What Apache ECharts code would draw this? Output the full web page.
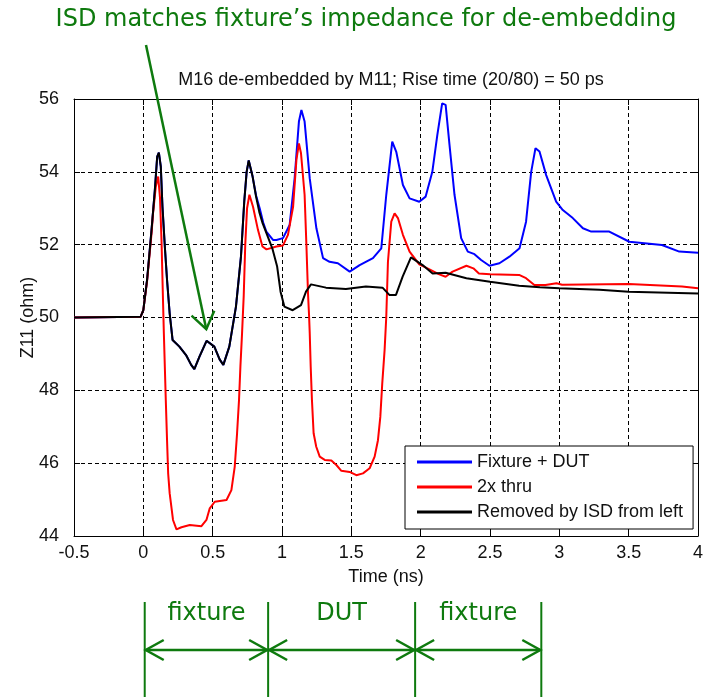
<!DOCTYPE html>
<html>
<head>
<meta charset="utf-8">
<script src="https://cdn.jsdelivr.net/npm/echarts@6/dist/echarts.min.js"></script>
<style>
  html, body { margin: 0; padding: 0; background: #fff; }
  #chart { width: 704px; height: 697px; }
</style>
</head>
<body>
<div id="chart"></div>
<script>
// Time axis ticks (ns) and impedance ticks (ohm)
const timeTicks = [-0.5, 0, 0.5, 1, 1.5, 2, 2.5, 3, 3.5, 4];
const zTicks = [44, 46, 48, 50, 52, 54, 56];

const seriesNames = ['Fixture + DUT', '2x thru', 'Removed by ISD from left'];

// Fixture + DUT TDR impedance [time ns, Z ohm]
const fixtureDut = [
  [-0.5, 50.0], [-0.02, 50.02], [0.0, 50.2], [0.027, 51.03], [0.059, 52.4], [0.083, 53.5],
  [0.1, 54.42], [0.112, 54.53], [0.126, 54.14], [0.138, 53.04], [0.155, 51.95], [0.171, 51.03],
  [0.19, 50.11], [0.211, 49.38], [0.26, 49.2], [0.308, 48.97], [0.345, 48.7], [0.368, 48.58],
  [0.404, 48.92], [0.456, 49.36], [0.512, 49.2], [0.55, 48.85], [0.577, 48.7], [0.62, 49.2],
  [0.668, 50.3], [0.704, 51.67], [0.728, 53.2], [0.745, 54.0], [0.76, 54.31], [0.788, 53.87],
  [0.813, 53.35], [0.839, 53.0], [0.865, 52.6], [0.887, 52.36], [0.935, 52.13], [0.96, 52.13],
  [1.007, 52.18], [1.055, 52.54], [1.091, 53.82], [1.122, 55.38], [1.14, 55.7], [1.163, 55.38],
  [1.2, 53.82], [1.248, 52.45], [1.296, 51.63], [1.343, 51.53], [1.403, 51.49], [1.488, 51.26],
  [1.56, 51.44], [1.656, 51.63], [1.716, 51.9], [1.752, 53.37], [1.795, 54.83], [1.824, 54.55],
  [1.872, 53.64], [1.92, 53.27], [1.99, 53.18], [2.036, 53.32], [2.084, 54.0], [2.12, 55.01],
  [2.155, 55.88], [2.18, 55.84], [2.208, 54.74], [2.244, 53.37], [2.292, 52.18], [2.34, 51.81],
  [2.388, 51.74], [2.436, 51.58], [2.496, 51.42], [2.568, 51.49], [2.64, 51.67], [2.713, 51.9],
  [2.76, 52.63], [2.797, 54.0], [2.828, 54.65], [2.857, 54.56], [2.905, 53.91], [2.977, 53.18],
  [3.025, 52.95], [3.097, 52.73], [3.17, 52.45], [3.23, 52.36], [3.36, 52.36], [3.505, 52.08],
  [3.74, 51.99], [3.865, 51.81], [4.0, 51.78]
];

// 2x thru TDR impedance
const twoXThru = [
  [-0.5, 50.0], [-0.02, 50.02], [0.0, 50.2], [0.027, 51.0], [0.059, 52.3], [0.07, 52.86],
  [0.09, 53.6], [0.107, 53.87], [0.12, 53.3], [0.131, 52.13], [0.143, 50.3], [0.148, 49.57],
  [0.155, 48.65], [0.162, 47.73], [0.171, 46.63], [0.179, 45.72], [0.19, 45.17], [0.214, 44.44],
  [0.239, 44.18], [0.275, 44.24], [0.335, 44.3], [0.419, 44.27], [0.455, 44.44], [0.479, 44.76],
  [0.515, 44.94], [0.6, 44.99], [0.635, 45.26], [0.659, 45.9], [0.676, 46.82], [0.69, 47.73],
  [0.7, 48.65], [0.712, 49.57], [0.724, 50.6], [0.735, 52.0], [0.748, 53.0], [0.765, 53.37],
  [0.791, 53.04], [0.827, 52.4], [0.859, 51.95], [0.888, 51.87], [0.96, 51.95], [1.007, 51.98],
  [1.043, 52.27], [1.08, 53.04], [1.104, 54.33], [1.122, 54.78], [1.137, 54.51], [1.163, 53.37],
  [1.176, 51.99], [1.188, 50.62], [1.195, 50.07], [1.2, 49.57], [1.207, 48.65], [1.216, 47.73],
  [1.228, 46.82], [1.247, 46.45], [1.272, 46.18], [1.308, 46.09], [1.356, 46.07], [1.392, 45.95],
  [1.428, 45.79], [1.488, 45.76], [1.536, 45.67], [1.584, 45.72], [1.632, 45.86], [1.668, 46.18],
  [1.692, 46.63], [1.709, 47.27], [1.723, 48.19], [1.74, 49.11], [1.752, 50.02], [1.764, 51.53],
  [1.788, 52.63], [1.812, 52.86], [1.836, 52.73], [1.872, 52.27], [1.92, 51.81], [1.99, 51.46],
  [2.06, 51.33], [2.13, 51.19], [2.18, 51.12], [2.23, 51.26], [2.33, 51.42], [2.38, 51.35],
  [2.42, 51.21], [2.5, 51.19], [2.71, 51.17], [2.76, 51.08], [2.82, 50.89], [2.9, 50.89],
  [2.98, 50.94], [3.02, 50.9], [3.5, 50.92], [3.885, 50.85], [4.0, 50.8]
];

// Fixture impedance recovered by ISD from the left side
const removedByIsd = [
  [-0.5, 50.0], [-0.02, 50.02], [0.0, 50.2], [0.027, 51.03], [0.059, 52.4], [0.083, 53.5],
  [0.1, 54.42], [0.112, 54.53], [0.126, 54.14], [0.138, 53.04], [0.155, 51.95], [0.171, 51.03],
  [0.19, 50.11], [0.211, 49.38], [0.26, 49.2], [0.308, 48.97], [0.345, 48.7], [0.368, 48.58],
  [0.404, 48.92], [0.456, 49.36], [0.512, 49.2], [0.55, 48.85], [0.577, 48.7], [0.62, 49.2],
  [0.668, 50.3], [0.704, 51.67], [0.728, 53.2], [0.745, 54.0], [0.76, 54.31], [0.788, 53.87],
  [0.813, 53.32], [0.836, 52.9], [0.86, 52.59], [0.93, 51.9], [0.965, 51.4], [0.99, 50.7],
  [1.017, 50.3], [1.077, 50.2], [1.137, 50.34], [1.173, 50.71], [1.209, 50.91], [1.317, 50.82],
  [1.461, 50.78], [1.605, 50.85], [1.725, 50.82], [1.774, 50.62], [1.822, 50.62], [1.87, 51.12],
  [1.93, 51.65], [2.014, 51.44], [2.086, 51.21], [2.18, 51.23], [2.33, 51.08], [2.5, 50.98],
  [2.71, 50.87], [2.86, 50.83], [3.0, 50.8], [3.29, 50.76], [3.5, 50.71], [4.0, 50.66]
];

const lineColors = ['#0000ff', '#ff0000', '#000000'];

// Section boundaries (ns) and their labels shown under the axis
const sectionEdges = [0.01, 0.9, 1.96, 2.87];
const sectionLabels = ['fixture', 'DUT', 'fixture'];

// Point the callout arrow lands on (ns, ohm)
const calloutTarget = [0.454, 49.68];
const calloutText = 'ISD matches fixture\u2019s impedance for de-embedding';

const FONT = '"Liberation Sans", Arial, sans-serif';
const GREEN = '#0e7a0e';
const ANNOT_FONT = '"DejaVu Sans", Verdana, sans-serif';

const gridRect = { left: 74, top: 99, width: 624, height: 437 };

const tickStep = (a) => a[1] - a[0];

const baseX = {
  type: 'value', min: timeTicks[0], max: timeTicks[timeTicks.length - 1], interval: tickStep(timeTicks)
};
const baseY = {
  type: 'value', min: zTicks[0], max: zTicks[zTicks.length - 1], interval: tickStep(zTicks)
};

const option = {
  animation: false,
  backgroundColor: '#fff',
  title: {
    text: 'M16 de-embedded by M11; Rise time (20/80) = 50 ps',
    left: 386, top: 66, textAlign: 'center',
    textStyle: { fontFamily: FONT, fontSize: 18, fontWeight: 'normal', color: '#111' }
  },
  grid: Object.assign({ show: false, outerBoundsMode: 'none', containLabel: false }, gridRect),
  legend: {
    orient: 'vertical', left: 405, top: 446,
    padding: [7, 10, 8, 12], itemGap: 7,
    itemWidth: 55, itemHeight: 3, icon: 'rect',
    backgroundColor: '#fff', borderColor: '#000', borderWidth: 1, borderRadius: 0,
    textStyle: { fontFamily: FONT, fontSize: 18, color: '#111' },
    data: seriesNames
  },
  xAxis: [
    Object.assign({}, baseX, {
      position: 'bottom',
      name: 'Time (ns)', nameLocation: 'middle', nameGap: 32, nameMoveOverlap: false,
      nameTextStyle: { fontFamily: FONT, fontSize: 18, color: '#111' },
      axisLine: { show: true, onZero: false, lineStyle: { color: '#000', width: 1 } },
      axisTick: { show: true, inside: true, length: 6, lineStyle: { color: '#000' } },
      axisLabel: { fontFamily: FONT, fontSize: 18, color: '#111', margin: 8 },
      splitLine: { show: true, lineStyle: { color: '#000', width: 1, type: [4, 3] } }
    }),
    Object.assign({}, baseX, {
      position: 'top',
      axisLine: { show: true, onZero: false, lineStyle: { color: '#000', width: 1 } },
      axisTick: { show: true, inside: true, length: 6, lineStyle: { color: '#000' } },
      axisLabel: { show: false },
      splitLine: { show: false }
    })
  ],
  yAxis: [
    Object.assign({}, baseY, {
      position: 'left',
      name: 'Z11 (ohm)', nameLocation: 'middle', nameGap: 37, nameRotate: 90, nameMoveOverlap: false,
      nameTextStyle: { fontFamily: FONT, fontSize: 18, color: '#111' },
      axisLine: { show: true, onZero: false, lineStyle: { color: '#000', width: 1 } },
      axisTick: { show: true, inside: true, length: 6, lineStyle: { color: '#000' } },
      axisLabel: { fontFamily: FONT, fontSize: 18, color: '#111', margin: 15 },
      splitLine: { show: true, lineStyle: { color: '#000', width: 1, type: [4, 3] } }
    }),
    Object.assign({}, baseY, {
      position: 'right',
      axisLine: { show: true, onZero: false, lineStyle: { color: '#000', width: 1 } },
      axisTick: { show: true, inside: true, length: 6, lineStyle: { color: '#000' } },
      axisLabel: { show: false },
      splitLine: { show: false }
    })
  ],
  series: [fixtureDut, twoXThru, removedByIsd].map((data, i) => ({
    name: seriesNames[i],
    type: 'line',
    xAxisIndex: 0, yAxisIndex: 0,
    data: data,
    showSymbol: false,
    symbol: 'none',
    color: lineColors[i],
    lineStyle: { color: lineColors[i], width: 2 },
    z: 2 + i
  }))
};

const chart = echarts.init(document.getElementById('chart'), null, { renderer: 'canvas' });
chart.setOption(option);

// Annotations: callout arrow and section brackets below the time axis
const toPx = (t, z) => chart.convertToPixel({ seriesIndex: 0 }, [t, z]);
const elements = [];

elements.push({
  type: 'text', silent: true,
  style: {
    text: calloutText, x: 366, y: 20,
    font: '24px ' + ANNOT_FONT, fill: GREEN, align: 'center', verticalAlign: 'middle'
  }
});

const tip = toPx(calloutTarget[0], calloutTarget[1]);
const start = [146, 45];
const ang = Math.atan2(tip[1] - start[1], tip[0] - start[0]);
const wing = 20, spread = 0.62;
elements.push({
  type: 'line', silent: true, z: 10,
  shape: { x1: start[0], y1: start[1], x2: tip[0], y2: tip[1] },
  style: { stroke: GREEN, lineWidth: 2.5 }
});
elements.push({
  type: 'polyline', silent: true, z: 10,
  shape: { points: [
    [tip[0] - wing * Math.cos(ang - spread), tip[1] - wing * Math.sin(ang - spread)],
    tip,
    [tip[0] - wing * Math.cos(ang + spread), tip[1] - wing * Math.sin(ang + spread)]
  ] },
  style: { stroke: GREEN, lineWidth: 2.5, fill: null }
});

const edgePx = sectionEdges.map(t => toPx(t, zTicks[0])[0]);
const vTop = 602, vBottom = 697, arrowY = 650, head = 18, headH = 10;
edgePx.forEach(x => {
  elements.push({
    type: 'line', silent: true,
    shape: { x1: x, y1: vTop, x2: x, y2: vBottom },
    style: { stroke: GREEN, lineWidth: 2 }
  });
});
for (let i = 0; i < sectionLabels.length; i++) {
  const a = edgePx[i] + 1, b = edgePx[i + 1] - 1;
  elements.push({
    type: 'line', silent: true,
    shape: { x1: a, y1: arrowY, x2: b, y2: arrowY },
    style: { stroke: GREEN, lineWidth: 2.5 }
  });
  elements.push({
    type: 'polyline', silent: true,
    shape: { points: [[a + head, arrowY - headH], [a, arrowY], [a + head, arrowY + headH]] },
    style: { stroke: GREEN, lineWidth: 2.5, fill: null }
  });
  elements.push({
    type: 'polyline', silent: true,
    shape: { points: [[b - head, arrowY - headH], [b, arrowY], [b - head, arrowY + headH]] },
    style: { stroke: GREEN, lineWidth: 2.5, fill: null }
  });
  elements.push({
    type: 'text', silent: true,
    style: {
      text: sectionLabels[i], x: (a + b) / 2, y: 614,
      font: '24px ' + ANNOT_FONT, fill: GREEN, align: 'center', verticalAlign: 'middle'
    }
  });
}

chart.setOption({ graphic: { elements: elements } });
</script>
</body>
</html>
